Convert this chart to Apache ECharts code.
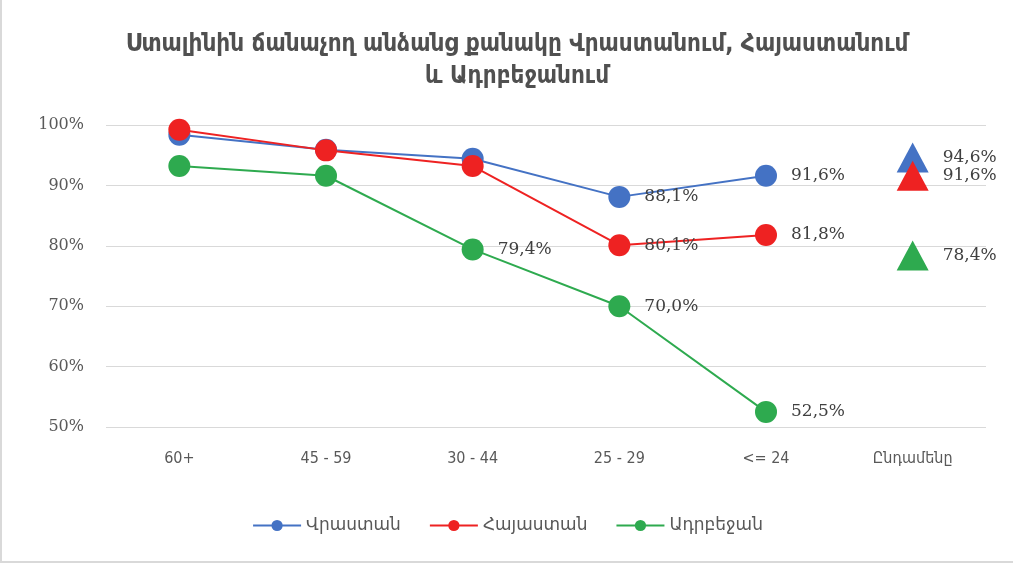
<!DOCTYPE html>
<html>
<head>
<meta charset="utf-8">
<script src="https://cdn.jsdelivr.net/npm/echarts@6/dist/echarts.min.js"></script>
<style>
  html, body { margin: 0; padding: 0; background: #fff; }
  #main { width: 1013px; height: 563px; box-sizing: border-box; border-left: 2px solid #d9d9d9; border-bottom: 2px solid #d9d9d9; }
</style>
</head>
<body>
<div id="main"></div>
<script>
var titleText = 'Ստալինին ճանաչող անձանց քանակը Վրաստանում, Հայաստանում\nև Ադրբեջանում'
var categories = ['60+', '45 - 59', '30 - 44', '25 - 29', '<= 24', 'Ընդամենը']
var seriesNames = ['Վրաստան', 'Հայաստան', 'Ադրբեջան']
var colors = ['#4472c4', '#ee2222', '#2eaa4f']
var georgia = [98.4, 95.9, 94.4, 88.1, 91.6]
var armenia = [99.2, 95.8, 93.2, 80.1, 81.8]
var azerbaijan = [93.2, 91.6, 79.4, 70.0, 52.5]
var totals = [94.6, 91.6, 78.4]
// which points carry a value label
var labelled = [[3, 4], [3, 4], [2, 3, 4]]
var yTicks = [50, 60, 70, 80, 90, 100]

var fmt = function (v) { return v.toFixed(1).replace('.', ',') + '%' }
var labelStyle = {
  show: true, position: 'right', distance: 14,
  color: '#404040', fontSize: 17, fontFamily: 'DejaVu Serif',
  formatter: function (p) { return fmt(p.value) }
}

var lines = [georgia, armenia, azerbaijan]
var series = []
lines.forEach(function (vals, i) {
  series.push({
    name: seriesNames[i],
    type: 'line',
    data: vals.map(function (v, k) {
      return labelled[i].indexOf(k) >= 0 ? { value: v, label: labelStyle } : v
    }),
    symbol: 'circle',
    symbolSize: 22,
    itemStyle: { color: colors[i] },
    lineStyle: { color: colors[i], width: 2 },
    label: { show: false },
    z: 2 + i
  })
})
totals.forEach(function (v, i) {
  var d = categories.map(function () { return '-' })
  d[5] = v
  series.push({
    name: seriesNames[i],
    type: 'scatter',
    data: d,
    symbol: 'triangle',
    symbolSize: [32, 30],
    itemStyle: { color: colors[i], opacity: 1 },
    label: labelStyle,
    z: 2 + i
  })
})

var myChart = echarts.init(document.getElementById('main'))
myChart.setOption({
  animation: false,
  title: {
    text: titleText,
    left: 510, top: 24,
    textAlign: 'center',
    textStyle: { fontSize: 24, fontWeight: 'bold', color: '#505050', fontFamily: 'DejaVu Sans Condensed', lineHeight: 32 }
  },
  legend: {
    data: seriesNames,
    bottom: 22,
    left: 'center',
    itemWidth: 48, itemHeight: 14, itemGap: 28,
    textStyle: { color: '#595959', fontSize: 17, fontFamily: 'DejaVu Sans' }
  },
  grid: { left: 104, right: 27, top: 125, bottom: 134 },
  xAxis: {
    type: 'category',
    data: categories,
    boundaryGap: true,
    axisLine: { show: false },
    axisTick: { show: false },
    axisLabel: { color: '#595959', fontSize: 16, fontFamily: 'DejaVu Sans Condensed', margin: 24 }
  },
  yAxis: {
    type: 'value',
    min: 50, max: 100, interval: 10,
    axisLine: { show: false },
    axisTick: { show: false },
    splitLine: { lineStyle: { color: '#d9d9d9', width: 1 } },
    axisLabel: { color: '#595959', fontSize: 16, fontFamily: 'DejaVu Serif', margin: 22,
      formatter: function (v) { return yTicks.indexOf(v) >= 0 ? v + '%' : '' } }
  },
  series: series
})
</script>
</body>
</html>
